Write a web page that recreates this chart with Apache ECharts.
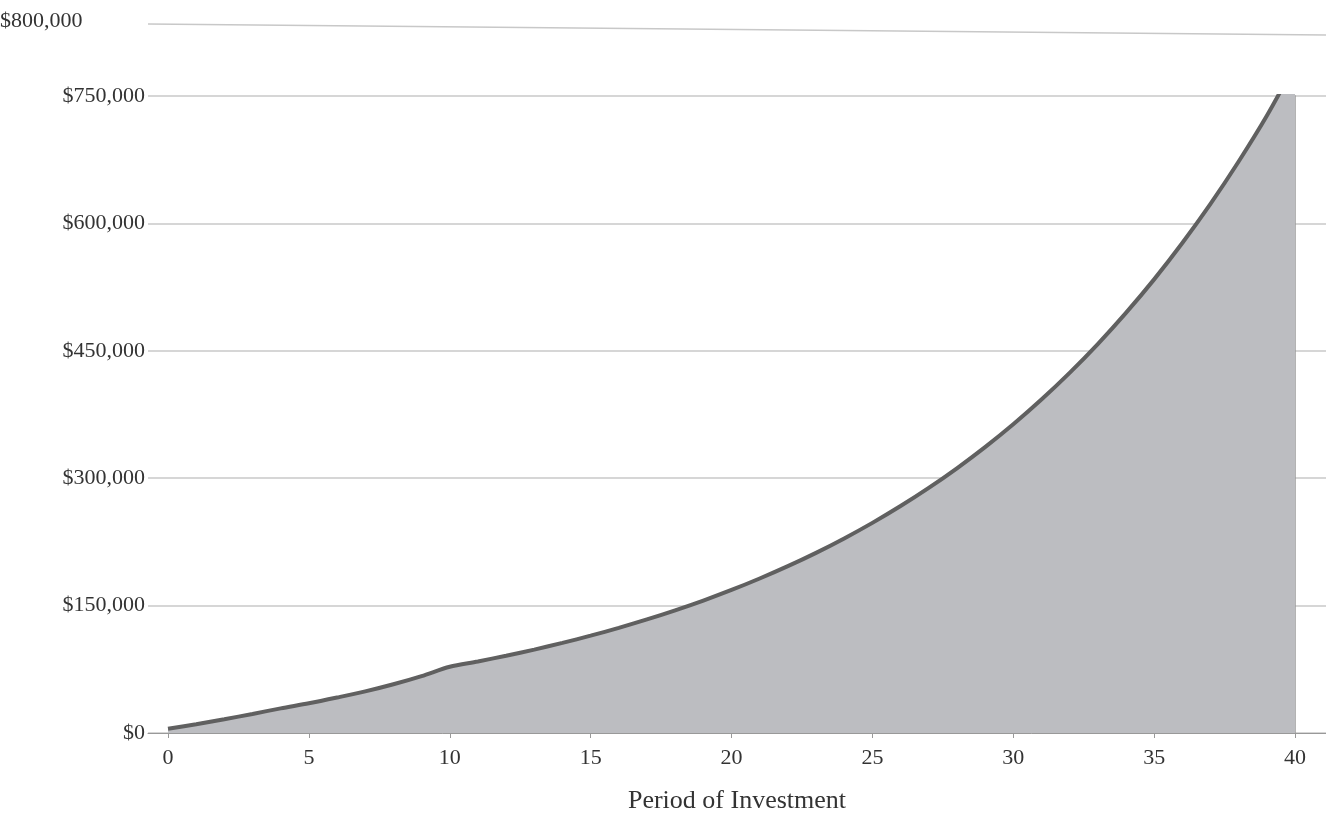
<!DOCTYPE html><html><head><meta charset="utf-8"><script src="https://cdn.jsdelivr.net/npm/echarts@6/dist/echarts.min.js"></script></head><body style="margin:0"><div id="c" style="width:1326px;height:830px"></div><script>
const years=[0,1,2,3,4,5,6,7,8,9,10,11,12,13,14,15,16,17,18,19,20,21,22,23,24,25,26,27,28,29,30,31,32,33,34,35,36,37,38,39,40];
const values=[5000,10400,16200,22400,29000,35000,41800,49000,57400,67000,78000,84200,91000,98200,106100,114600,123800,133700,144400,155900,168400,181900,196400,212100,229100,247400,267200,288600,311700,336600,363500,392600,424000,457900,494600,534100,576900,623000,672900,726700,787176];
const xTicks=[0,5,10,15,20,25,30,35,40];
const yTicks=[0,150000,300000,450000,600000,750000];
const fmt=v=>'$'+v.toLocaleString('en-US');
const F='Liberation Serif';
const ch=echarts.init(document.getElementById('c'));
ch.setOption({
 grid:{left:148,right:0,top:96,bottom:97},
 xAxis:{type:'value',min:-0.71,max:41.1,name:'Period of Investment',nameLocation:'middle',nameGap:55,
  nameTextStyle:{fontFamily:F,fontSize:26,color:'#333'},
  axisLine:{lineStyle:{color:'#999'}},splitLine:{show:false},
  axisTick:{customValues:xTicks,lineStyle:{color:'#999'}},
  axisLabel:{customValues:xTicks,fontFamily:F,fontSize:22,color:'#333',margin:14}},
 yAxis:{type:'value',min:0,max:750000,interval:150000,
  axisLabel:{formatter:fmt,fontFamily:F,fontSize:22,color:'#333',margin:3},
  axisLine:{show:false},axisTick:{show:false},splitLine:{lineStyle:{color:'#c8c8c8',width:1.5}}},
 graphic:[
  {type:'line',shape:{x1:148,y1:24,x2:1326,y2:35},style:{stroke:'#c8c8c8',lineWidth:1.5}},
  {type:'text',left:0,top:10,style:{text:'$800,000',font:'22px "Liberation Serif"',fill:'#333'}}
 ],
 series:[{type:'line',data:years.map((y,i)=>[y,values[i]]),smooth:0.3,symbol:'none',
  lineStyle:{color:'#606060',width:4},areaStyle:{color:'#bcbdc1',opacity:1},
  markPoint:{symbol:'circle',symbolSize:11,itemStyle:{color:'#606060'},
   data:[{coord:[40,787176],value:787176,label:{show:true,position:'top',distance:12,formatter:p=>fmt(p.value),fontFamily:F,fontSize:22,color:'#333'}}]}},
  {type:'line',data:[[40,0],[40,787176]],symbol:'none',lineStyle:{color:'#9a9a9a',width:1.5},z:1}]
});
</script></body></html>
